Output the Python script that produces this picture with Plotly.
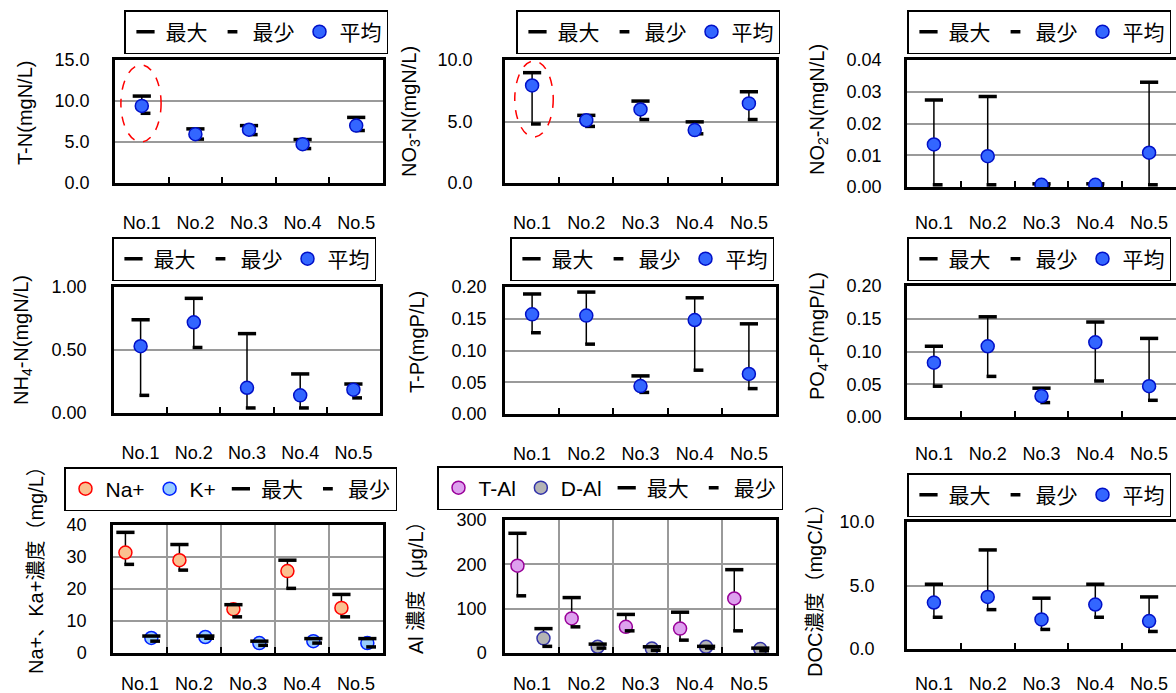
import plotly.graph_objects as go

W, H = 1176, 693
FONT = "Liberation Sans, Arial, Noto Sans CJK JP, sans-serif"

categories = ["No.1", "No.2", "No.3", "No.4", "No.5"]

# T-N (mgN/L)
tn_mean = [9.4, 5.96, 6.5, 4.74, 7.0]
tn_max = [10.6, 6.6, 7.0, 5.3, 8.0]
tn_min = [8.5, 5.35, 5.9, 4.2, 6.4]

# NO3-N (mgN/L)
no3_mean = [7.93, 5.1, 5.98, 4.3, 6.47]
no3_max = [8.97, 5.5, 6.66, 4.97, 7.42]
no3_min = [4.8, 4.6, 5.16, 4.0, 5.16]

# NO2-N (mgN/L)
no2_mean = [0.0134, 0.0097, 0.0007, 0.0007, 0.0108]
no2_max = [0.0274, 0.0285, 0.0010, 0.0010, 0.0330]
no2_min = [0.0007, 0.0007, 0.0005, 0.0005, 0.0007]

# NH4-N (mgN/L)
nh4_mean = [0.53, 0.72, 0.20, 0.14, 0.185]
nh4_max = [0.74, 0.91, 0.63, 0.31, 0.23]
nh4_min = [0.14, 0.52, 0.04, 0.04, 0.12]

# T-P (mgP/L)
tp_mean = [0.157, 0.155, 0.044, 0.148, 0.063]
tp_max = [0.189, 0.192, 0.060, 0.183, 0.142]
tp_min = [0.128, 0.110, 0.034, 0.069, 0.040]

# PO4-P (mgP/L)
po4_mean = [0.083, 0.108, 0.032, 0.114, 0.047]
po4_max = [0.108, 0.153, 0.044, 0.145, 0.120]
po4_min = [0.047, 0.062, 0.022, 0.055, 0.0255]

# Na+ / K+ (mg/L)
na_mean = [31.4, 29.0, 13.7, 25.6, 14.1]
na_max = [37.7, 33.9, 15.1, 29.0, 18.3]
na_min = [27.7, 25.9, 11.3, 20.2, 11.3]
k_mean = [4.7, 5.0, 3.1, 3.7, 3.1]
k_max = [5.3, 5.3, 3.7, 4.5, 4.5]
k_min = [3.7, 4.6, 2.4, 3.1, 1.9]

# Al (ug/L)
tal_mean = [197, 78, 59, 55, 123]
tal_max = [270, 125, 87, 92, 188]
tal_min = [129, 59, 50, 29, 50]
dal_mean = [33, 14, 10, 14, 9]
dal_max = [55, 20, 14, 15, 11]
dal_min = [15, 11, 6, 11, 5]

# DOC (mgC/L)
doc_mean = [3.66, 4.1, 2.33, 3.5, 2.2]
doc_max = [5.1, 7.8, 4.0, 5.1, 4.1]
doc_min = [2.5, 3.1, 1.54, 2.5, 1.38]

pos = [i + 1 for i in range(len(categories))]
MIN_SHIFT = 0.07

fig = go.Figure()


def ax_names(i):
    s = "" if i == 1 else str(i)
    return "x" + s, "y" + s, "legend" + s


def add_cap_traces(i, xs_max, ys_max, xs_min, ys_min):
    xa, ya, lg = ax_names(i)
    fig.add_trace(go.Scatter(
        x=xs_max, y=ys_max, mode="markers", name="最大", legend=lg,
        xaxis=xa, yaxis=ya, hoverinfo="skip",
        marker=dict(symbol="line-ew", size=13, color="black",
                    line=dict(width=3.5, color="black"))))
    fig.add_trace(go.Scatter(
        x=xs_min, y=ys_min, mode="markers", name="最少", legend=lg,
        xaxis=xa, yaxis=ya, hoverinfo="skip",
        marker=dict(symbol="line-ew", size=7, color="black",
                    line=dict(width=3.5, color="black"))))


def add_mean_trace(i, name, xs, mean, mx, mn, fill, edge):
    xa, ya, lg = ax_names(i)
    fig.add_trace(go.Scatter(
        x=xs, y=mean, mode="markers", name=name, legend=lg,
        xaxis=xa, yaxis=ya, hoverinfo="skip",
        marker=dict(symbol="circle", size=13, color=fill,
                    line=dict(width=1.5, color=edge)),
        error_y=dict(type="data", symmetric=False,
                     array=[a - b for a, b in zip(mx, mean)],
                     arrayminus=[b - c for b, c in zip(mean, mn)],
                     color="black", thickness=1.5, width=0)))


BLUE_FILL, BLUE_EDGE = "#3366FF", "#0010C8"

standard = [
    (1, tn_mean, tn_max, tn_min),
    (2, no3_mean, no3_max, no3_min),
    (3, no2_mean, no2_max, no2_min),
    (4, nh4_mean, nh4_max, nh4_min),
    (5, tp_mean, tp_max, tp_min),
    (6, po4_mean, po4_max, po4_min),
    (9, doc_mean, doc_max, doc_min),
]
for i, m, mx, mn in standard:
    add_cap_traces(i, pos, mx, [p + MIN_SHIFT for p in pos], mn)
    add_mean_trace(i, "平均", pos, m, mx, mn, BLUE_FILL, BLUE_EDGE)

# Na / K panel
na_x = [p - 0.27 for p in pos]
k_x = [p + 0.21 for p in pos]
add_mean_trace(7, "Na+", na_x, na_mean, na_max, na_min, "#FAC090", "#FF0000")
add_mean_trace(7, "K+", k_x, k_mean, k_max, k_min, "#99CCFF", "#0022FF")
add_cap_traces(7, na_x + k_x, na_max + k_max,
               [x + MIN_SHIFT for x in na_x + k_x], na_min + k_min)

# Al panel
tal_x = [p - 0.27 for p in pos]
dal_x = [p + 0.21 for p in pos]
add_mean_trace(8, "T-Al", tal_x, tal_mean, tal_max, tal_min, "#DDA0EE", "#990099")
add_mean_trace(8, "D-Al", dal_x, dal_mean, dal_max, dal_min, "#B4B4B4", "#3333AA")
add_cap_traces(8, tal_x + dal_x, tal_max + dal_max,
               [x + MIN_SHIFT for x in tal_x + dal_x], tal_min + dal_min)

# panel layout specs: plot box px (x0, x1, ytop, ybottom), y range, dtick, format,
# y label standoff, x label standoff, legend (x, y), title, title x, title y, right-cut, x grid
panels = {
    1: ((115, 383, 60, 183), [0, 15], 5, ".1f", 19, 22, (124, 10), "T-N(mgN/L)", 25, 113, False, False),
    2: ((505, 776, 60, 183), [0, 10], 5, ".1f", 26, 22, (516, 10), "NO<sub>3</sub>-N(mgN/L)", 410, 112, False, False),
    3: ((907, 1176, 60, 187), [0, 0.04], 0.01, ".2f", 19, 18, (907, 10), "NO<sub>2</sub>-N(mgN/L)", 818, 110, True, False),
    4: ((114, 380, 287, 413), [0, 1.0], 0.5, ".2f", 21, 22, (112, 237), "NH<sub>4</sub>-N(mgN/L)", 22, 340, False, False),
    5: ((505, 776, 287, 414), [0, 0.2], 0.05, ".2f", 12, 22, (510, 237), "T-P(mgP/L)", 417, 342, False, False),
    6: ((907, 1176, 286, 417), [0, 0.2], 0.05, ".2f", 19, 19, (907, 237), "PO<sub>4</sub>-P(mgP/L)", 818, 336, True, False),
    7: ((113, 383, 525, 653), [0, 40], 10, "d", 20, 13, (64, 467), "Na+、Ka+濃度（mg/L）", 36, 565, False, True),
    8: ((505, 776, 520, 653), [0, 300], 100, "d", 12, 13, (437, 466), "Al 濃度（μg/L）", 416, 583, False, True),
    9: ((907, 1176, 522, 649), [0, 10], 5, ".1f", 26, 17, (907, 473), "DOC濃度（mgC/L）", 815, 586, True, False),
}

layout = dict(
    width=W, height=H, autosize=False,
    margin=dict(l=0, r=0, t=0, b=0, pad=0, autoexpand=False),
    paper_bgcolor="white", plot_bgcolor="white",
    font=dict(family=FONT, size=18, color="black"),
    showlegend=True, annotations=[], shapes=[],
)

GRID = "#9a9a9a"
for i, (box, yr, dt, fmt, ystand, xstand, lpos, title, tx, ty, cut, xgrid) in panels.items():
    x0, x1, yt, yb = box
    s = "" if i == 1 else str(i)
    layout["xaxis" + s] = dict(
        domain=[x0 / W, x1 / W], anchor="y" + s, range=[0.5, 5.5],
        tickmode="array", tickvals=pos, ticktext=categories, ticks="",
        showgrid=False, zeroline=False, showline=True, mirror=True,
        linecolor="black", linewidth=2.5, automargin=False,
        tickfont=dict(size=18, family=FONT, color="black"),
        ticklabelstandoff=xstand,
        minor=dict(tickmode="array", tickvals=[p + 0.5 for p in pos[:-1]],
                   ticks="inside", ticklen=6, tickwidth=1.5, tickcolor="black",
                   showgrid=xgrid, gridcolor=GRID, gridwidth=1.5),
    )
    layout["yaxis" + s] = dict(
        domain=[1 - yb / H, 1 - yt / H], anchor="x" + s, range=yr,
        tickmode="linear", tick0=0, dtick=dt, tickformat=fmt, ticks="",
        showgrid=True, gridcolor=GRID, gridwidth=1.5, zeroline=False,
        showline=True, mirror=not cut, linecolor="black", linewidth=2.5,
        automargin=False,
        tickfont=dict(size=18, family=FONT, color="black"),
        ticklabelstandoff=ystand,
    )
    layout["legend" + s] = dict(
        x=lpos[0] / W, y=1 - lpos[1] / H, xanchor="left", yanchor="top",
        orientation="h", bordercolor="black", borderwidth=1.5, bgcolor="white",
        font=dict(size=21, family=FONT, color="black"),
        itemwidth=30, tracegroupgap=0,
    )
    layout["annotations"].append(dict(
        text=title, x=tx / W, y=1 - ty / H, xref="paper", yref="paper",
        xanchor="center", yanchor="middle", textangle=-90, showarrow=False,
        font=dict(size=20, family=FONT, color="black"),
    ))

# red dashed highlight ellipses around No.1
layout["shapes"].append(dict(type="circle", xref="x", yref="y",
                             x0=0.61, x1=1.36, y0=5.0, y1=14.4,
                             line=dict(color="red", width=1.5, dash="dash")))
layout["shapes"].append(dict(type="circle", xref="x2", yref="y2",
                             x0=0.68, x1=1.39, y0=3.74, y1=9.92,
                             line=dict(color="red", width=1.5, dash="dash")))

fig.update_layout(**layout)
fig.write_html("out.html", config={"displayModeBar": False},
               post_script="document.body.style.margin='0';document.body.style.padding='0';")
